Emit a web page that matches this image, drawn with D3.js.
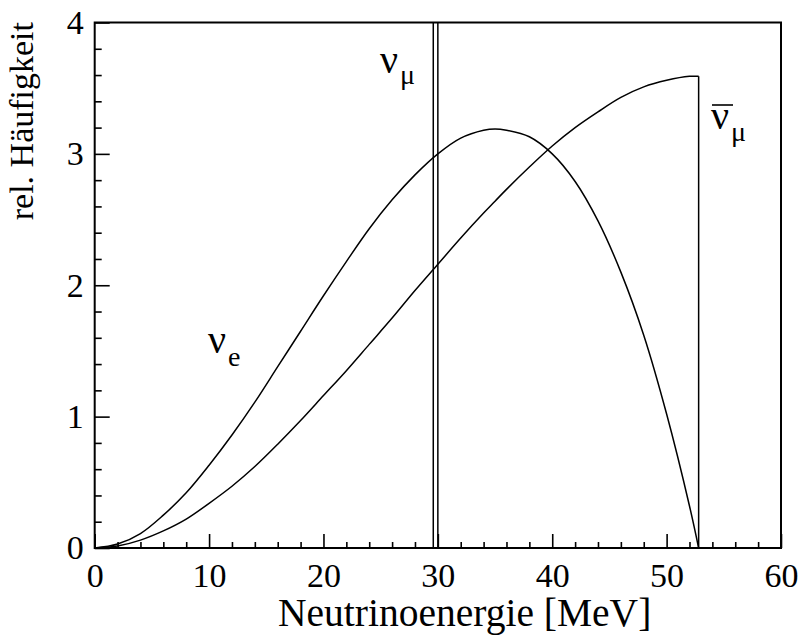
<!DOCTYPE html>
<html>
<head>
<meta charset="utf-8">
<script src="https://cdn.jsdelivr.net/npm/d3@7"></script>
<style>
  body { margin: 0; background: #fff; }
  text { font-family: "Liberation Serif", "Times New Roman", serif; fill: #000; }
</style>
</head>
<body>
<svg id="chart" width="801" height="635"></svg>
<script>
// Neutrino energy spectra from pion/muon decay at rest
const energy  = [0, 2, 4, 6, 8, 10, 12, 14, 16, 18, 20, 22, 24, 26, 28, 30, 32, 34, 35, 36, 38, 40, 42, 44, 46, 48, 50, 52, 52.8];
const nuE     = [0, 0.03, 0.11, 0.25, 0.42, 0.63, 0.86, 1.11, 1.38, 1.65, 1.92, 2.18, 2.43, 2.65, 2.84, 3.00, 3.12, 3.18, 3.19, 3.18, 3.13, 3.00, 2.79, 2.49, 2.10, 1.62, 1.02, 0.32, 0];
const nuMuBar = [0, 0.015, 0.06, 0.13, 0.22, 0.34, 0.47, 0.62, 0.79, 0.97, 1.16, 1.35, 1.55, 1.75, 1.96, 2.16, 2.36, 2.55, 2.64, 2.73, 2.90, 3.06, 3.20, 3.32, 3.43, 3.51, 3.56, 3.59, 3.59];
const nuMuEnergy = 29.8;       // monoenergetic line
const nuMuHalfWidth = 0.2;
const xTicks = [0, 10, 20, 30, 40, 50, 60];
const yTicks = [0, 1, 2, 3, 4];
const xMinor = [2, 4, 6, 8, 12, 14, 16, 18, 22, 24, 26, 28, 32, 34, 36, 38, 42, 44, 46, 48, 52, 54, 56, 58];
const yMinor = [0.2, 0.4, 0.6, 0.8, 1.2, 1.4, 1.6, 1.8, 2.2, 2.4, 2.6, 2.8, 3.2, 3.4, 3.6, 3.8];

const svg = d3.select("#chart");
const x = d3.scaleLinear().domain([0, 60]).range([94.7, 781]);
const y = d3.scaleLinear().domain([0, 4]).range([548, 22.5]);
const fs = 34;

// minor and major ticks (inward, left and bottom only)
const gx = svg.append("g").attr("transform", `translate(0,${y(0)})`);
gx.call(d3.axisBottom(x).tickValues(xMinor).tickSize(-6).tickFormat(""));
const gx2 = svg.append("g").attr("transform", `translate(0,${y(0)})`);
gx2.call(d3.axisBottom(x).tickValues(xTicks).tickSize(-14).tickPadding(15).tickFormat(d3.format("d")));
const gy = svg.append("g").attr("transform", `translate(${x(0)},0)`);
gy.call(d3.axisLeft(y).tickValues(yMinor).tickSize(-7).tickFormat(""));
const gy2 = svg.append("g").attr("transform", `translate(${x(0)},0)`);
gy2.call(d3.axisLeft(y).tickValues(yTicks).tickSize(-15).tickPadding(11).tickFormat(d3.format("d")));

svg.selectAll(".domain").remove();
svg.selectAll(".tick line").attr("stroke", "#000").attr("stroke-width", 1.6);
svg.selectAll(".tick text").attr("font-size", fs).attr("font-family", null);

// frame
svg.append("rect")
  .attr("x", x(0)).attr("y", y(4))
  .attr("width", x(60) - x(0)).attr("height", y(0) - y(4))
  .attr("fill", "none").attr("stroke", "#000").attr("stroke-width", 2);

const line = d3.line().x((d, i) => x(energy[i])).y(d => y(d)).curve(d3.curveCatmullRom.alpha(0.5));

svg.append("path").datum(nuE).attr("d", line)
  .attr("fill", "none").attr("stroke", "#000").attr("stroke-width", 1.5);
svg.append("path").datum(nuMuBar).attr("d", line)
  .attr("fill", "none").attr("stroke", "#000").attr("stroke-width", 1.5);
// cutoff edge of the anti-nu_mu spectrum
const last = energy.length - 1;
svg.append("line")
  .attr("x1", x(energy[last])).attr("x2", x(energy[last]))
  .attr("y1", y(nuMuBar[last])).attr("y2", y(0))
  .attr("stroke", "#000").attr("stroke-width", 1.5);

// nu_mu monoenergetic line (double stroke)
[nuMuEnergy - nuMuHalfWidth, nuMuEnergy + nuMuHalfWidth].forEach(e => {
  svg.append("line")
    .attr("x1", x(e)).attr("x2", x(e))
    .attr("y1", y(0)).attr("y2", y(4))
    .attr("stroke", "#000").attr("stroke-width", 1.5);
});

// axis titles
svg.append("text")
  .attr("x", 278).attr("y", 626)
  .attr("font-size", 39.5)
  .text("Neutrinoenergie [MeV]");
svg.append("text")
  .attr("transform", "translate(33,22) rotate(-90)")
  .attr("text-anchor", "end").attr("font-size", fs)
  .text("rel. Häufigkeit");

// curve labels
function nuLabel(px, py, sub, subDy, bar) {
  const t = svg.append("text").attr("x", px).attr("y", py);
  t.append("tspan").attr("font-size", 40).text("ν");
  t.append("tspan").attr("font-size", 28).attr("dx", 2).attr("dy", subDy).text(sub);
  if (bar) {
    svg.append("line")
      .attr("x1", px + 1).attr("x2", px + 22)
      .attr("y1", py - 24).attr("y2", py - 24)
      .attr("stroke", "#000").attr("stroke-width", 1.6);
  }
}
nuLabel(380, 73, "μ", 11, false);
nuLabel(208, 353, "e", 13, false);
nuLabel(711, 129, "μ", 12, true);
</script>
</body>
</html>
